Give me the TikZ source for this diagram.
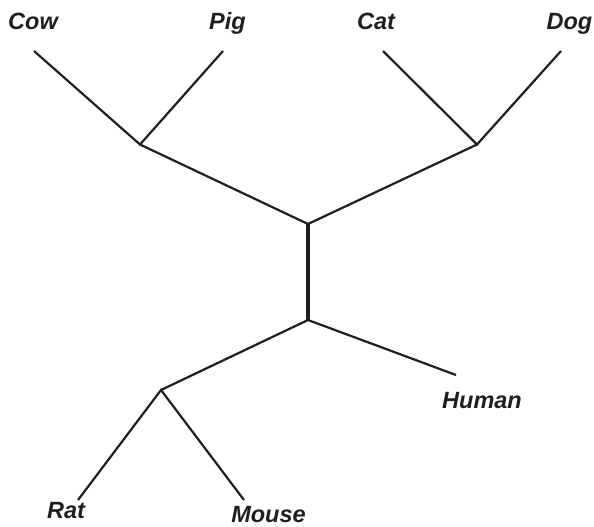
\documentclass[tikz,border=0pt]{standalone}
\usepackage{fontspec}
\setmainfont{Liberation Sans}
\begin{document}
\begin{tikzpicture}[x=1pt,y=-1pt,
  taxon/.style={font=\fontsize{23.5}{26}\selectfont\bfseries\itshape, inner sep=0pt, anchor=base, text=black!88},
  branch/.style={line width=2.2pt, black!88},
  stem/.style={line width=4pt, black!88}]
\useasboundingbox (0,0) rectangle (594,527);
% labels
\node[taxon] (cow) at (33,29.5) {Cow};
\node[taxon] (pig) at (227.5,29.5) {Pig};
\node[taxon] (cat) at (376,29.5) {Cat};
\node[taxon] (dog) at (569.5,29.5) {Dog};
\node[taxon] (human) at (482,408) {Human};
\node[taxon] (rat) at (66,518) {Rat};
\node[taxon] (mouse) at (268.5,522) {Mouse};
% tips
\coordinate (tcow) at (34,51);
\coordinate (tpig) at (223,51);
\coordinate (tcat) at (383,51);
\coordinate (tdog) at (561,51);
\coordinate (thuman) at (456,375);
\coordinate (trat) at (78,500);
\coordinate (tmouse) at (244,500);
% internal nodes
\coordinate (jcp) at (140,144.5);
\coordinate (jcd) at (477,144.5);
\coordinate (jtop) at (308,224);
\coordinate (jbot) at (308,320);
\coordinate (jrm) at (161,390);
% branches
\draw[branch] (tcow) -- (jcp) -- (tpig);
\draw[branch] (tcat) -- (jcd) -- (tdog);
\draw[branch] (jcp) -- (jtop) -- (jcd);
\draw[stem] (jtop) -- (jbot);
\draw[branch] (jrm) -- (jbot) -- (thuman);
\draw[branch] (trat) -- (jrm) -- (tmouse);
\end{tikzpicture}
\end{document}
